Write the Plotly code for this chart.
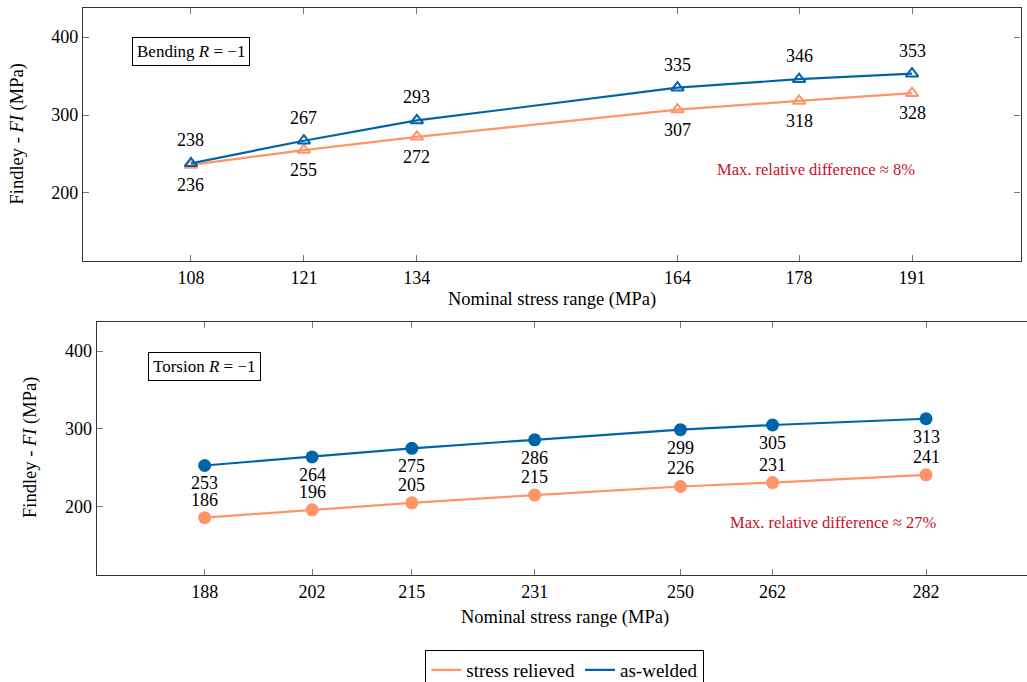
import plotly.graph_objects as go

# ---- data ----
bend_x = [108, 121, 134, 164, 178, 191]
bend_welded = [238, 267, 293, 335, 346, 353]
bend_relieved = [236, 255, 272, 307, 318, 328]

tors_x = [188, 202, 215, 231, 250, 262, 282]
tors_welded = [253, 264, 275, 286, 299, 305, 313]
tors_relieved = [186, 196, 205, 215, 226, 231, 241]

y_ticks = [200, 300, 400]

BLUE = "#0065A8"
ORANGE = "#FF9466"
RED = "#C8102E"
FONT = "Liberation Serif, Times New Roman, serif"

W, H = 1027, 682

fig = go.Figure()

# top subplot (bending)
fig.add_trace(go.Scatter(x=bend_x, y=bend_relieved, mode="lines+markers",
                         line=dict(color=ORANGE, width=2.2),
                         marker=dict(symbol="triangle-up-open", size=11, color=ORANGE, line=dict(width=2, color=ORANGE)),
                         xaxis="x", yaxis="y", showlegend=False))
fig.add_trace(go.Scatter(x=bend_x, y=bend_welded, mode="lines+markers",
                         line=dict(color=BLUE, width=2.2),
                         marker=dict(symbol="triangle-up-open", size=11, color=BLUE, line=dict(width=2, color=BLUE)),
                         xaxis="x", yaxis="y", showlegend=False))

# bottom subplot (torsion)
fig.add_trace(go.Scatter(x=tors_x, y=tors_relieved, mode="lines+markers",
                         line=dict(color=ORANGE, width=2.2),
                         marker=dict(symbol="circle", size=13, color=ORANGE),
                         xaxis="x2", yaxis="y2", showlegend=False))
fig.add_trace(go.Scatter(x=tors_x, y=tors_welded, mode="lines+markers",
                         line=dict(color=BLUE, width=2.2),
                         marker=dict(symbol="circle", size=13, color=BLUE),
                         xaxis="x2", yaxis="y2", showlegend=False))

# legend-only entries
fig.add_trace(go.Scatter(x=[None], y=[None], mode="lines", name="stress relieved",
                         line=dict(color=ORANGE, width=2.2), xaxis="x2", yaxis="y2"))
fig.add_trace(go.Scatter(x=[None], y=[None], mode="lines", name="as-welded",
                         line=dict(color=BLUE, width=2.2), xaxis="x2", yaxis="y2"))

annotations = []
lab_font = dict(family=FONT, size=18, color="black")
for xv, yv in zip(bend_x, bend_welded):
    annotations.append(dict(x=xv, y=yv, xref="x", yref="y", text=str(yv), showarrow=False,
                            yshift=23, font=lab_font))
for xv, yv in zip(bend_x, bend_relieved):
    annotations.append(dict(x=xv, y=yv, xref="x", yref="y", text=str(yv), showarrow=False,
                            yshift=-20, font=lab_font))
for xv, yv in zip(tors_x, tors_welded):
    annotations.append(dict(x=xv, y=yv, xref="x2", yref="y2", text=str(yv), showarrow=False,
                            yshift=-18, font=lab_font))
for xv, yv in zip(tors_x, tors_relieved):
    annotations.append(dict(x=xv, y=yv, xref="x2", yref="y2", text=str(yv), showarrow=False,
                            yshift=18, font=lab_font))

box_font = dict(family=FONT, size=17, color="black")
annotations.append(dict(x=108, y=381, xref="x", yref="y", text="Bending <i>R</i> = −1", showarrow=False,
                        bordercolor="black", borderwidth=1, borderpad=4, bgcolor="white", font=box_font))
annotations.append(dict(x=188, y=380, xref="x2", yref="y2", text="Torsion <i>R</i> = −1", showarrow=False,
                        bordercolor="black", borderwidth=1, borderpad=4, bgcolor="white", font=box_font))

red_font = dict(family=FONT, size=16.5, color=RED)
annotations.append(dict(x=180.0, y=229.5, xref="x", yref="y", text="Max. relative difference ≈ 8%",
                        showarrow=False, font=red_font))
annotations.append(dict(x=269.9, y=180, xref="x2", yref="y2", text="Max. relative difference ≈ 27%",
                        showarrow=False, font=red_font))

title_font = dict(family=FONT, size=18.5, color="black")
annotations.append(dict(x=(83 + 1020.5) / 2 / W, y=1 - 299 / H, xref="paper", yref="paper",
                        xanchor="center", yanchor="middle",
                        text="Nominal stress range (MPa)", showarrow=False, font=title_font))
annotations.append(dict(x=(96.7 + 1034) / 2 / W, y=1 - 617 / H, xref="paper", yref="paper",
                        xanchor="center", yanchor="middle",
                        text="Nominal stress range (MPa)", showarrow=False, font=title_font))
annotations.append(dict(x=17 / W, y=1 - 134.5 / H, xref="paper", yref="paper",
                        xanchor="center", yanchor="middle",
                        text="Findley - <i>FI</i> (MPa)", textangle=-90, showarrow=False, font=title_font))
annotations.append(dict(x=30 / W, y=1 - 448 / H, xref="paper", yref="paper",
                        xanchor="center", yanchor="middle",
                        text="Findley - <i>FI</i> (MPa)", textangle=-90, showarrow=False, font=title_font))

tick_font = dict(family=FONT, size=18, color="black")
common_x = dict(showgrid=False, zeroline=False, showline=True, linecolor="#333", linewidth=1.3,
                ticks="inside", ticklen=6, tickcolor="#777", tickfont=tick_font)
common_y = dict(showgrid=False, zeroline=False, showline=True, linecolor="#333", linewidth=1.3,
                ticks="inside", ticklen=6, tickcolor="#777", tickfont=tick_font, tickvals=y_ticks)

fig.update_layout(
    width=W, height=H,
    margin=dict(l=0, r=0, t=0, b=0, autoexpand=False),
    paper_bgcolor="white", plot_bgcolor="white",
    xaxis=dict(domain=[83 / W, 1020.5 / W], range=[95.57, 203.49], anchor="y",
               tickvals=bend_x, mirror="allticks", **common_x),
    yaxis=dict(domain=[1 - 261 / H, 1 - 8 / H], range=[112.8, 437.2], anchor="x",
               mirror="allticks", **common_y),
    xaxis2=dict(domain=[96.7 / W, 1.0], range=[173.93, 295.16], anchor="y2",
                tickvals=tors_x, mirror="allticks", **common_x),
    yaxis2=dict(domain=[1 - 575 / H, 1 - 321.7 / H], range=[112.3, 437.7], anchor="x2",
                mirror=False, **common_y),
    annotations=annotations,
    legend=dict(orientation="h", x=0.55, xanchor="center", y=1 - 650 / H, yanchor="top",
                bordercolor="black", borderwidth=1, bgcolor="white",
                font=dict(family=FONT, size=19, color="black"), tracegroupgap=0),
    font=dict(family=FONT),
)

fig.write_html("out.html", config={"displayModeBar": False},
               post_script="document.body.style.margin='0';document.body.style.overflow='hidden';")
